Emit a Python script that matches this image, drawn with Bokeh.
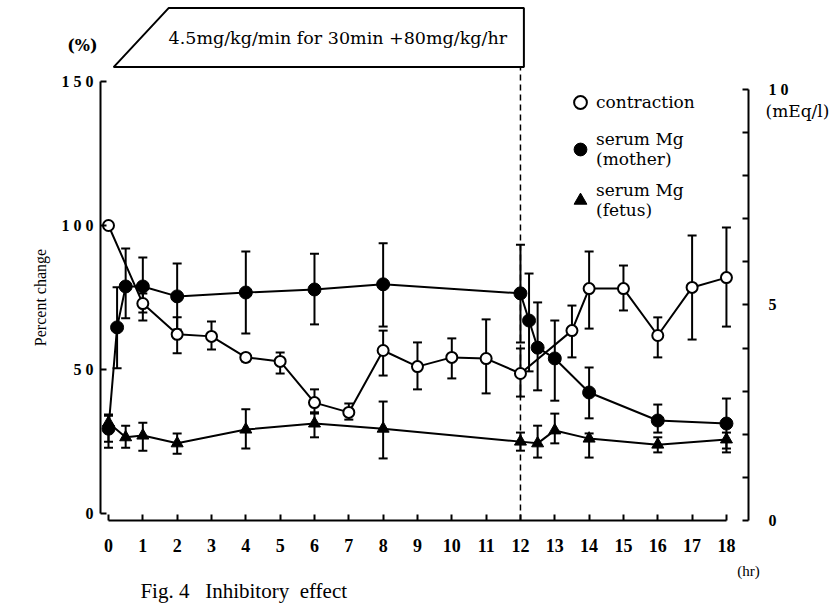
from bokeh.plotting import figure
from bokeh.models import (Range1d, LinearAxis, FixedTicker, ColumnDataSource, Whisker,
                          TeeHead, Label, Legend, LegendItem)
from bokeh.embed import file_html
from bokeh.resources import INLINE
from bokeh.core.properties import value

# ---------------- data ----------------
# contraction (% of baseline), left axis
con_t = [0, 1, 2, 3, 4, 5, 6, 7, 8, 9, 10, 11, 12, 13.5, 14, 15, 16, 17, 18]
con_v = [100, 72.9, 62.2, 61.5, 54.2, 52.8, 38.5, 35.1, 56.6, 51.0, 54.2, 53.8, 48.6, 63.5, 78.1, 78.1, 61.8, 78.5, 81.9]
con_hi = [100, 76.4, 68.1, 66.7, 55.2, 55.9, 43.1, 38.2, 63.5, 59.4, 60.8, 67.4, 57.3, 72.2, 91.0, 86.1, 68.1, 96.5, 99.3]
con_lo = [100, 69.8, 55.6, 56.9, 52.8, 48.6, 34.7, 32.6, 47.9, 43.1, 46.9, 41.7, 40.6, 54.2, 64.2, 70.5, 54.2, 60.4, 64.9]

# serum Mg, mother (mEq/l), right axis
mot_t = [0, 0.25, 0.5, 1, 2, 4, 6, 8, 12, 12.25, 12.5, 13, 14, 16, 18]
mot_v = [2.13, 4.48, 5.43, 5.43, 5.20, 5.29, 5.36, 5.48, 5.27, 4.64, 4.01, 3.76, 2.97, 2.32, 2.25]
mot_hi = [2.43, 5.41, 6.31, 6.10, 5.96, 6.24, 6.19, 6.43, 6.40, 5.73, 5.06, 4.64, 3.55, 2.69, 2.83]
mot_lo = [1.83, 3.53, 4.69, 4.64, 4.43, 4.34, 4.55, 4.50, 4.13, 3.46, 3.02, 2.78, 2.37, 2.04, 1.67]

# serum Mg, fetus (mEq/l), right axis
fet_t = [0, 0.5, 1, 2, 4, 6, 8, 12, 12.5, 13, 14, 16, 18]
fet_v = [2.27, 1.93, 1.97, 1.79, 2.11, 2.25, 2.13, 1.83, 1.79, 2.09, 1.90, 1.76, 1.88]
fet_hi = [2.46, 2.20, 2.27, 2.02, 2.58, 2.51, 2.76, 2.04, 2.20, 2.48, 2.02, 1.93, 2.04]
fet_lo = [1.69, 1.69, 1.62, 1.55, 1.67, 1.93, 1.44, 1.62, 1.46, 1.79, 1.46, 1.58, 1.58]

x_ticks = list(range(0, 19))
left_ticks = [0, 50, 100, 150]
left_tick_labels = ["0", "5 0", "1 0 0", "1 5 0"]
right_ticks = list(range(0, 11))
right_tick_labels = ["0", "", "", "", "", "5", "", "", "", "", "1 0"]

infusion_start = 0
infusion_end = 12
infusion_text = "4.5mg/kg/min for 30min +80mg/kg/hr"

SERIF = "DejaVu Serif"
TIMES = "Liberation Serif"

# ---------------- figure (frame = whole canvas, axes at fixed locations) ----------------
X0, X1 = -3.146, 21.206
Y0, Y1 = -31.6, 178.125
R0, R1 = -1.949, 12.065
AX_LEFT, AX_RIGHT, AX_BOTTOM = -0.233, 18.64, -2.43

p = figure(width=836, height=604, x_range=Range1d(X0, X1), y_range=Range1d(Y0, Y1),
           output_backend="svg", toolbar_location=None, title=None, min_border=0)
p.extra_y_ranges = {"mEq": Range1d(R0, R1)}
p.outline_line_color = None
p.xgrid.visible = False
p.ygrid.visible = False
p.background_fill_color = "white"
p.border_fill_color = "white"

def style_axis(ax, size):
    ax.axis_line_width = 2
    ax.axis_line_color = "black"
    ax.major_tick_line_width = 2
    ax.major_tick_line_color = "black"
    ax.major_tick_in = 6
    ax.major_tick_out = 0
    ax.minor_tick_line_color = None
    ax.major_label_text_font = TIMES
    ax.major_label_text_font_style = "bold"
    ax.major_label_text_font_size = size
    ax.major_label_text_color = "black"

xa = p.xaxis[0]
xa.ticker = FixedTicker(ticks=x_ticks)
xa.bounds = (0, 18)
xa.fixed_location = AX_BOTTOM
style_axis(xa, "18px")
xa.major_label_standoff = 19

ya = p.yaxis[0]
ya.ticker = FixedTicker(ticks=left_ticks)
ya.bounds = (0, 150)
ya.fixed_location = AX_LEFT
ya.major_label_overrides = {t: s for t, s in zip(left_ticks, left_tick_labels)}
style_axis(ya, "16px")
ya.major_label_standoff = 7

ra = LinearAxis(y_range_name="mEq", ticker=FixedTicker(ticks=right_ticks), bounds=(0, 10),
                fixed_location=AX_RIGHT)
ra.major_label_overrides = {t: s for t, s in zip(right_ticks, right_tick_labels)}
style_axis(ra, "16px")
ra.major_label_standoff = 20
p.add_layout(ra, "right")

# ---------------- infusion box & dashed line ----------------
box_bottom, box_top = 155.0, 175.5
p.patch([infusion_start + 0.15, infusion_start + 1.75, infusion_end + 0.1, infusion_end + 0.1],
        [box_bottom, box_top, box_top, box_bottom],
        fill_color="white", line_color="black", line_width=2)
p.text(x=[infusion_start + 1.75], y=[(box_bottom + box_top) / 2],
       text=[infusion_text], text_font=value(SERIF), text_font_size="17.5px",
       text_align="left", text_baseline="middle", text_color="black")
p.segment(x0=[infusion_end], y0=[AX_BOTTOM], x1=[infusion_end], y1=[box_bottom],
          line_color="black", line_width=1.5, line_dash="6 4")

# ---------------- error bars ----------------
def whisk(t, hi, lo, rng=None):
    keep = [i for i in range(len(t)) if hi[i] != lo[i]]
    src = ColumnDataSource(dict(t=[t[i] for i in keep], hi=[hi[i] for i in keep],
                                lo=[lo[i] for i in keep]))
    kw = dict(source=src, base="t", upper="hi", lower="lo", line_width=2, line_color="black",
              upper_head=TeeHead(size=9, line_width=2, line_color="black"),
              lower_head=TeeHead(size=9, line_width=2, line_color="black"), level="underlay")
    if rng:
        kw["y_range_name"] = rng
    p.add_layout(Whisker(**kw))

whisk(con_t, con_hi, con_lo)
whisk(mot_t, mot_hi, mot_lo, "mEq")
whisk(fet_t, fet_hi, fet_lo, "mEq")

# ---------------- lines & markers ----------------
p.line(con_t, con_v, line_color="black", line_width=2)
p.line(mot_t, mot_v, line_color="black", line_width=2, y_range_name="mEq")
p.line(fet_t, fet_v, line_color="black", line_width=2, y_range_name="mEq")

fet_sc = p.scatter(fet_t, fet_v, marker="triangle", size=12, fill_color="black", line_color="black",
                   y_range_name="mEq")
mot_sc = p.scatter(mot_t, mot_v, marker="circle", size=13, fill_color="black", line_color="black",
                   y_range_name="mEq")
con_sc = p.scatter(con_t, con_v, marker="circle", size=11, fill_color="white", line_color="black",
                   line_width=2)

# ---------------- legend ----------------
legend = Legend(items=[LegendItem(label="contraction", renderers=[con_sc]),
                       LegendItem(label="serum Mg\n(mother)", renderers=[mot_sc]),
                       LegendItem(label="serum Mg\n(fetus)", renderers=[fet_sc])],
                location=(564, 384))
legend.border_line_color = None
legend.background_fill_alpha = 0
legend.label_text_font = SERIF
legend.label_text_font_size = "17px"
legend.label_text_color = "black"
legend.label_text_line_height = 0.95
legend.spacing = 11
legend.padding = 0
legend.margin = 0
legend.glyph_width = 32
legend.glyph_height = 32
legend.label_standoff = 0
p.add_layout(legend)

# ---------------- other texts ----------------
def lab(x, y, text, size, font=SERIF, style="normal", align="left", angle=0, baseline="middle"):
    p.add_layout(Label(x=x, y=y, text=text, text_font=font, text_font_size=size,
                       text_font_style=style, text_align=align, text_baseline=baseline,
                       angle=angle, text_color="black"))

lab(-0.76, 162.5, "(%)", "16px", style="bold", align="center")
lab(-1.98, 75.0, "Percent change", "16px", font=TIMES, align="center", angle=1.5708)
lab(19.14, 139.9, "(mEq/l)", "17px")
lab(18.64, -19.8, "(hr)", "15px", font=TIMES, align="center")
lab(0.93, -26.9, "Fig. 4\u00a0\u00a0\u00a0Inhibitory\u00a0\u00a0effect", "21px", font=TIMES, baseline="alphabetic")

open("out.html", "w").write(file_html(p, INLINE))
